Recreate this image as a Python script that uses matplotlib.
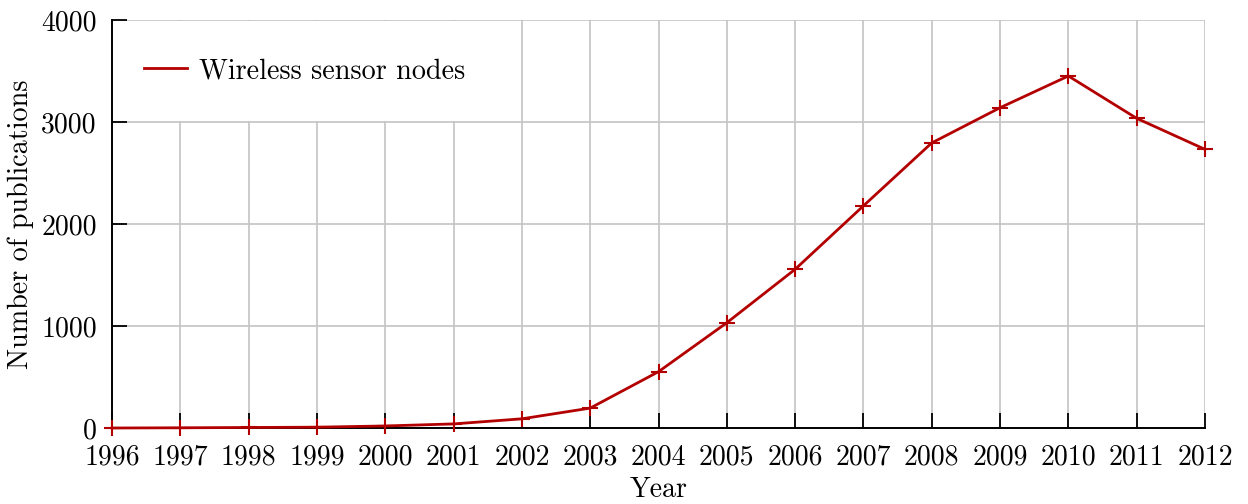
import matplotlib
matplotlib.use("Agg")
import matplotlib.pyplot as plt
from matplotlib.lines import Line2D

# Publications per year on wireless sensor nodes
years = [1996, 1997, 1998, 1999, 2000, 2001, 2002, 2003, 2004,
         2005, 2006, 2007, 2008, 2009, 2010, 2011, 2012]
publications = [0, 2, 5, 8, 20, 40, 90, 195, 552,
                1032, 1556, 2178, 2795, 3140, 3451, 3036, 2732]
y_ticks = [0, 1000, 2000, 3000, 4000]
series_label = "Wireless sensor nodes"

plt.rcParams["font.family"] = ["cmr10", "DejaVu Serif"]
plt.rcParams["axes.formatter.use_mathtext"] = True
plt.rcParams["mathtext.fontset"] = "cm"

FS = 20.0
RED = "#b30000"
GRID = "#c4c4c4"

fig = plt.figure(figsize=(12.48, 5.04), dpi=100)
ax = fig.add_axes([112 / 1248, 76 / 504, (1205 - 112) / 1248, (428 - 20) / 504])

ax.plot(years, publications, color=RED, lw=2.0, marker="+", ms=12, mew=1.5,
        clip_on=False, zorder=5, solid_joinstyle="round")

ax.set_xlim(years[0], years[-1])
ax.set_ylim(y_ticks[0], y_ticks[-1])
ax.set_xticks(years)
ax.set_xticklabels([str(y) for y in years])
ax.set_yticks(y_ticks)
ax.set_yticklabels([str(v) for v in y_ticks])

for side in ("top", "right"):
    ax.spines[side].set_visible(False)
for side in ("left", "bottom"):
    ax.spines[side].set_linewidth(1.4)
    ax.spines[side].set_color("black")
    ax.spines[side].set_zorder(4)

ax.tick_params(axis="both", direction="in", length=11, width=1.3,
               color="black", labelsize=FS)
ax.tick_params(axis="x", pad=12)
ax.tick_params(axis="y", pad=11)

ax.grid(True, color=GRID, lw=1.2, zorder=0)
ax.set_axisbelow(True)

ax.set_xlabel("Year", fontsize=FS, labelpad=4)
ax.set_ylabel("Number of publications", fontsize=20.3, labelpad=5)

leg = ax.legend(handles=[Line2D([], [], color=RED, lw=2.0)],
                labels=[series_label],
                loc="upper left", bbox_to_anchor=(-0.004, 0.997),
                fontsize=20.3, frameon=True, fancybox=False,
                facecolor="white", edgecolor="none", framealpha=1.0,
                handlelength=1.5, handletextpad=0.45, borderpad=1.3,
                borderaxespad=0)
leg.set_zorder(3)

fig.savefig("out.png", dpi=100)
